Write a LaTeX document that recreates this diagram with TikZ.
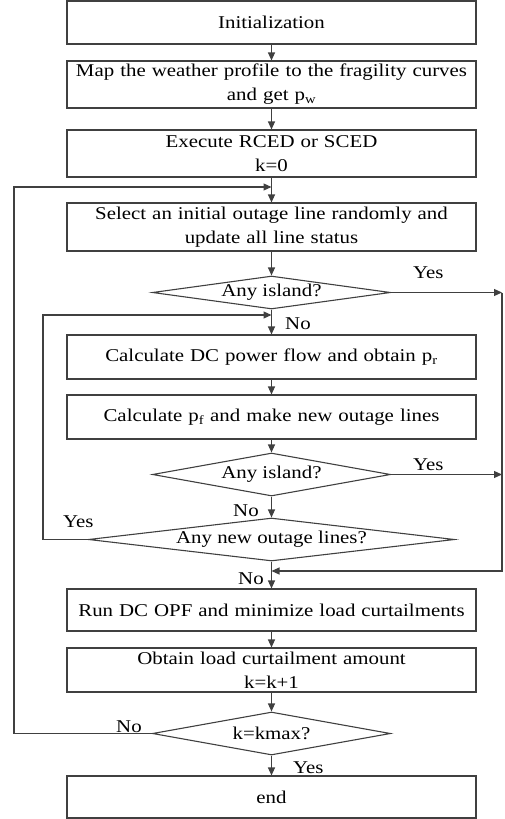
\documentclass[tikz,border=0pt]{standalone}
\usepackage{fontspec}
\setmainfont{Liberation Serif}[FakeStretch=1.16]
\usetikzlibrary{arrows.meta,shapes.geometric}
\definecolor{linegray}{HTML}{404040}
\tikzset{
	stepbox/.style={draw=linegray, line width=1.1pt, minimum width=409pt, text width=400pt, align=center, inner sep=0pt},
	decis/.style={diamond, draw=linegray, line width=1.1pt, inner sep=0pt, aspect=6},
	arr/.style={draw=linegray, line width=1.1pt, -{Triangle[length=8pt,width=7pt]}},
	lbl/.style={anchor=base west, inner sep=0pt}
}
\begin{document}
\begin{tikzpicture}[x=1pt,y=-1pt,font=\fontsize{18}{24}\selectfont]
		\useasboundingbox (0,0) rectangle (505,819);
		% main column
		\node[stepbox, minimum height=43pt] (init) at (271.5,22.5) {Initialization};
		\node[stepbox, minimum height=47pt] (map) at (271.5,84.5) {Map the weather profile to the fragility curves\\ and get p\textsubscript{w}};
		\node[stepbox, minimum height=47pt] (exec) at (271.5,153.5) {Execute RCED or SCED\\ k=0};
		\node[stepbox, minimum height=48pt] (sel) at (271.5,227) {Select an initial outage line randomly and\\ update all line status};
		\node[decis, minimum width=238pt, minimum height=33pt, label=center:{Any island?}] (isl1) at (271.5,292.5) {};
		\node[stepbox, minimum height=44pt] (dcpf) at (271.5,357) {Calculate DC power flow and obtain p\textsubscript{r}};
		\node[stepbox, minimum height=44pt] (pf) at (271.5,417) {Calculate p\textsubscript{f} and make new outage lines};
		\node[decis, minimum width=238pt, minimum height=43pt, label=center:{Any island?}] (isl2) at (271.5,474.5) {};
		\node[decis, minimum width=366pt, minimum height=43pt, label=center:{Any new outage lines?}] (newout) at (271.5,539.5) {};
		\node[stepbox, minimum height=42pt] (opf) at (271.5,610) {Run DC OPF and minimize load curtailments};
		\node[stepbox, minimum height=44pt] (obt) at (271.5,670) {Obtain load curtailment amount\\ k=k+1};
		\node[decis, minimum width=238pt, minimum height=43pt, label=center:{k=kmax?}] (kmax) at (271.5,733.5) {};
		\node[stepbox, minimum height=42pt] (fin) at (271.5,797) {end};

		% junctions and rails
		\coordinate (j1) at (271.5,187);
		\coordinate (j2) at (271.5,315);
		\coordinate (j3) at (271.5,571);
		\coordinate (railk) at (14,187);
		\coordinate (railn) at (43,315);
		\coordinate (r1) at (502,292.5);
		\coordinate (r2) at (502,474.5);

		\draw[arr] (init) -- (map);
		\draw[arr] (map) -- (exec);
		\draw[arr] (exec) -- (sel);
		\draw[arr] (sel) -- (isl1);
		\draw[arr] (isl1) -- (dcpf);
		\draw[arr] (dcpf) -- (pf);
		\draw[arr] (pf) -- (isl2);
		\draw[arr] (isl2) -- (newout);
		\draw[arr] (newout) -- (opf);
		\draw[arr] (opf) -- (obt);
		\draw[arr] (obt) -- (kmax);
		\draw[arr] (kmax) -- (fin);

		\draw[arr] (isl1.east) -- (r1);
		\draw[arr] (isl2.east) -- (r2);
		\draw[arr] (r1) |- (j3);
		\draw[arr] (newout.west) -| (railn) -- (j2);
		\draw[arr] (kmax.west) -| (railk) -- (j1);

		% branch labels
		\node[lbl] (yes1) at (413,278) {Yes};
		\node[lbl] (no1) at (285,329) {No};
		\node[lbl] (yes2) at (413,470) {Yes};
		\node[lbl] (no2) at (233,516) {No};
		\node[lbl] (yes3) at (63,527) {Yes};
		\node[lbl] (no3) at (238,584) {No};
		\node[lbl] (no4) at (116,732) {No};
		\node[lbl] (yes4) at (293,773) {Yes};
\end{tikzpicture}
\end{document}
